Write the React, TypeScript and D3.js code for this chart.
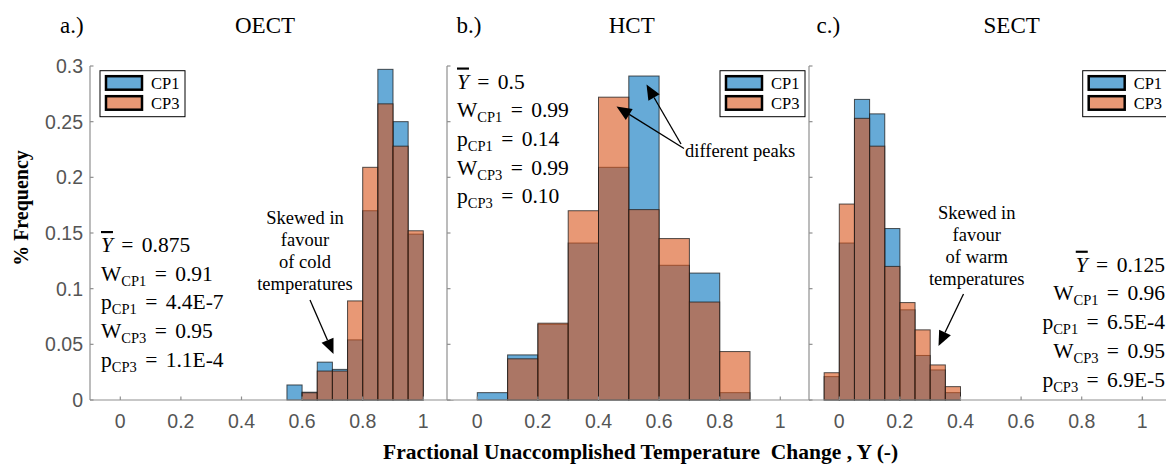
import React from "react";
import * as d3 from "d3";

// ---------- data ----------
const seriesNames = ["CP1", "CP3"];
const panelLetters = ["a.)", "b.)", "c.)"];
const panelTitles = ["OECT", "HCT", "SECT"];
const xTicks = [0, 0.2, 0.4, 0.6, 0.8, 1];
const yTicks = [0, 0.05, 0.1, 0.15, 0.2, 0.25, 0.3];
const yTickLabels = ["0", "0.05", "0.1", "0.15", "0.2", "0.25", "0.3"];

// OECT (bin width 0.05)
const oectBinStarts = [0.55, 0.6, 0.65, 0.7, 0.75, 0.8, 0.85, 0.9, 0.95];
const oectBinWidth = 0.05;
const oectCP1 = [0.0135, 0.007, 0.034, 0.0275, 0.054, 0.17, 0.297, 0.25, 0.149];
const oectCP3 = [0, 0.0065, 0.026, 0.026, 0.089, 0.209, 0.266, 0.228, 0.152];

// HCT (bin width 0.1)
const hctBinStarts = [0, 0.1, 0.2, 0.3, 0.4, 0.5, 0.6, 0.7, 0.8];
const hctBinWidth = 0.1;
const hctCP1 = [0.0066, 0.0405, 0.068, 0.141, 0.209, 0.291, 0.121, 0.114, 0.0066];
const hctCP3 = [0, 0.037, 0.069, 0.17, 0.272, 0.171, 0.145, 0.088, 0.0435];

// SECT (bin width 0.05)
const sectBinStarts = [-0.05, 0, 0.05, 0.1, 0.15, 0.2, 0.25, 0.3, 0.35];
const sectBinWidth = 0.05;
const sectCP1 = [0.021, 0.141, 0.27, 0.257, 0.154, 0.081, 0.04, 0.027, 0.0066];
const sectCP3 = [0.0245, 0.176, 0.253, 0.228, 0.12, 0.0875, 0.063, 0.0315, 0.012];

// statistics text
const yBars = ["0.875", "0.5", "0.125"];
const wCP1 = ["0.91", "0.99", "0.96"];
const pCP1 = ["4.4E-7", "0.14", "6.5E-4"];
const wCP3 = ["0.95", "0.99", "0.95"];
const pCP3 = ["1.1E-4", "0.10", "6.9E-5"];

const noteA = ["Skewed in", "favour", "of cold", "temperatures"];
const noteC = ["Skewed in", "favour", "of warm", "temperatures"];
const noteB = "different peaks";

// ---------- styling / layout ----------
const W = 1166;
const H = 467;
const COL1 = "#0072BD";
const COL3 = "#D95319";
const AX = "#8f8f8f";
const TICKTXT = "#555555";
const SERIF = "'Liberation Serif', 'Times New Roman', serif";
const SANS = "'Liberation Sans', Arial, sans-serif";

const panelLeft = [90, 447, 809];
const panelWidth = 363.6;
const yTop = 66;
const yBottom = 400;

const panels = [
  { starts: oectBinStarts, w: oectBinWidth, cp1: oectCP1, cp3: oectCP3 },
  { starts: hctBinStarts, w: hctBinWidth, cp1: hctCP1, cp3: hctCP3 },
  { starts: sectBinStarts, w: sectBinWidth, cp1: sectCP1, cp3: sectCP3 },
];

const yScale = d3.scaleLinear().domain([0, 0.3]).range([yBottom, yTop]);

function Arrow({ x1, y1, x2, y2 }: { x1: number; y1: number; x2: number; y2: number }) {
  const ang = Math.atan2(y2 - y1, x2 - x1);
  const L = 15;
  const Wd = 6.5;
  const bx = x2 - L * Math.cos(ang);
  const by = y2 - L * Math.sin(ang);
  const px = -Math.sin(ang);
  const py = Math.cos(ang);
  const pts = [
    [x2, y2],
    [bx + Wd * px, by + Wd * py],
    [bx - Wd * px, by - Wd * py],
  ];
  return (
    <g>
      <line x1={x1} y1={y1} x2={bx} y2={by} stroke="#000" strokeWidth={1.3} />
      <polygon points={pts.map((p) => p.join(",")).join(" ")} fill="#000" />
    </g>
  );
}

function Legend({ x, y }: { x: number; y: number }) {
  return (
    <g>
      <rect x={x} y={y} width={85} height={46} fill="#fff" stroke="#000" strokeWidth={1} />
      {seriesNames.map((n, i) => (
        <g key={n}>
          <rect
            x={x + 6}
            y={y + 5.5 + i * 20}
            width={36}
            height={13.5}
            fill={i === 0 ? COL1 : COL3}
            fillOpacity={0.6}
            stroke="#000"
            strokeWidth={2.5}
          />
          <text x={x + 51} y={y + 18.5 + i * 20} fontFamily={SERIF} fontSize={16.5} fill="#000">
            {n}
          </text>
        </g>
      ))}
    </g>
  );
}

function Stats({ i, x, y0, anchor }: { i: number; x: number; y0: number; anchor: string }) {
  const fs = 21.5;
  const sub = 14.5;
  const step = 28.7;
  const lines = [
    { main: "W", subs: "CP1", val: wCP1[i] },
    { main: "p", subs: "CP1", val: pCP1[i] },
    { main: "W", subs: "CP3", val: wCP3[i] },
    { main: "p", subs: "CP3", val: pCP3[i] },
  ];
  return (
    <g fontFamily={SERIF} fill="#000" textAnchor={anchor}>
      <text x={x} y={y0} fontSize={fs}>
        <tspan fontStyle="italic" style={{ textDecoration: "overline" }}>Y</tspan>
        <tspan dx={3}> =</tspan>
        <tspan dx={3}> {yBars[i]}</tspan>
      </text>
      {lines.map((l, k) => (
        <text key={k} x={x} y={y0 + (k + 1) * step} fontSize={fs}>
          <tspan>{l.main}</tspan>
          <tspan fontSize={sub} dy={5}>{l.subs}</tspan>
          <tspan dy={-5} dx={3}> =</tspan>
          <tspan dx={3}> {l.val}</tspan>
        </text>
      ))}
    </g>
  );
}

export default function App() {
  return (
    <svg
      width={W}
      height={H}
      viewBox={`0 0 ${W} ${H}`}
      style={{ position: "absolute", left: 0, top: 0, background: "#fff" }}
    >
      <rect x={0} y={0} width={W} height={H} fill="#fff" />
      {panels.map((p, pi) => {
        const x0 = panelLeft[pi];
        const xs = d3.scaleLinear().domain([-0.1, 1.1]).range([x0, x0 + panelWidth]);
        return (
          <g key={pi}>
            <rect x={x0} y={yTop - 2} width={panelWidth} height={yBottom - yTop + 2} fill="#fff" />
            {p.starts.map((s, k) =>
              p.cp1[k] > 0 ? (
                <rect
                  key={"a" + k}
                  x={xs(s)}
                  y={yScale(p.cp1[k])}
                  width={xs(s + p.w) - xs(s)}
                  height={yScale(0) - yScale(p.cp1[k])}
                  fill={COL1}
                  fillOpacity={0.6}
                  stroke="#1a1a1a"
                  strokeOpacity={0.75}
                  strokeWidth={1}
                />
              ) : null
            )}
            {p.starts.map((s, k) =>
              p.cp3[k] > 0 ? (
                <rect
                  key={"b" + k}
                  x={xs(s)}
                  y={yScale(p.cp3[k])}
                  width={xs(s + p.w) - xs(s)}
                  height={yScale(0) - yScale(p.cp3[k])}
                  fill={COL3}
                  fillOpacity={0.6}
                  stroke="#1a1a1a"
                  strokeOpacity={0.75}
                  strokeWidth={1}
                />
              ) : null
            )}
            <line x1={x0} y1={yBottom} x2={x0 + panelWidth} y2={yBottom} stroke={AX} strokeWidth={1.2} />
            <line x1={x0} y1={yTop} x2={x0} y2={yBottom} stroke={AX} strokeWidth={1.2} />
            {yTicks.map((t, k) => (
              <line key={"yt" + k} x1={x0} x2={x0 + 3.5} y1={yScale(t)} y2={yScale(t)} stroke={AX} strokeWidth={1.2} />
            ))}
            {xTicks.map((t, k) => (
              <g key={"xt" + k}>
                <line x1={xs(t)} x2={xs(t)} y1={yBottom} y2={yBottom - 3.5} stroke={AX} strokeWidth={1.2} />
                <text
                  x={xs(t)}
                  y={428}
                  textAnchor="middle"
                  fontFamily={SANS}
                  fontSize={19.5}
                  fill={TICKTXT}
                >
                  {String(t)}
                </text>
              </g>
            ))}
            {pi === 0 &&
              yTicks.map((t, k) => (
                <text
                  key={"yl" + k}
                  x={83}
                  y={yScale(t) + 7}
                  textAnchor="end"
                  fontFamily={SANS}
                  fontSize={19.5}
                  fill={TICKTXT}
                >
                  {yTickLabels[k]}
                </text>
              ))}
          </g>
        );
      })}

      {panelLetters.map((l, i) => (
        <text key={"l" + i} x={[60, 456.5, 816.5][i]} y={33} fontFamily={SERIF} fontSize={23} fill="#000">
          {l}
        </text>
      ))}
      {panelTitles.map((t, i) => (
        <text
          key={"t" + i}
          x={[265, 631.7, 1011.7][i]}
          y={33}
          textAnchor="middle"
          fontFamily={SERIF}
          fontSize={23}
          fill="#000"
        >
          {t}
        </text>
      ))}

      <Legend x={100} y={70.7} />
      <Legend x={720} y={70.7} />
      <Legend x={1082.7} y={70.7} />

      <Stats i={0} x={101} y0={252} anchor="start" />
      <Stats i={1} x={457} y0={88.5} anchor="start" />
      <Stats i={2} x={1165} y0={271.7} anchor="end" />

      <g fontFamily={SERIF} fontSize={18.5} fill="#000" textAnchor="middle">
        {noteA.map((s, k) => (
          <text key={"na" + k} x={305} y={224 + k * 22}>
            {s}
          </text>
        ))}
        {noteC.map((s, k) => (
          <text key={"nc" + k} x={976.7} y={218.5 + k * 22}>
            {s}
          </text>
        ))}
      </g>
      <text x={685} y={157} fontFamily={SERIF} fontSize={18.5} fill="#000">
        {noteB}
      </text>
      <Arrow x1={310} y1={300} x2={333.5} y2={354} />
      <Arrow x1={963.5} y1={294} x2={938.5} y2={346} />
      <Arrow x1={681} y1={144} x2={646.5} y2={84.5} />
      <Arrow x1={684} y1={148.5} x2={616.5} y2={106.5} />

      <text
        transform="translate(28,208) rotate(-90)"
        textAnchor="middle"
        fontFamily={SERIF}
        fontWeight="bold"
        fontSize={20}
        fill="#000"
      >
        % Frequency
      </text>
      <text x={383} y={459} fontFamily={SERIF} fontWeight="bold" fontSize={21.5} fill="#000" style={{ whiteSpace: "pre" }}>
        {"Fractional Unaccomplished Temperature  Change , Y (-)"}
      </text>
    </svg>
  );
}
